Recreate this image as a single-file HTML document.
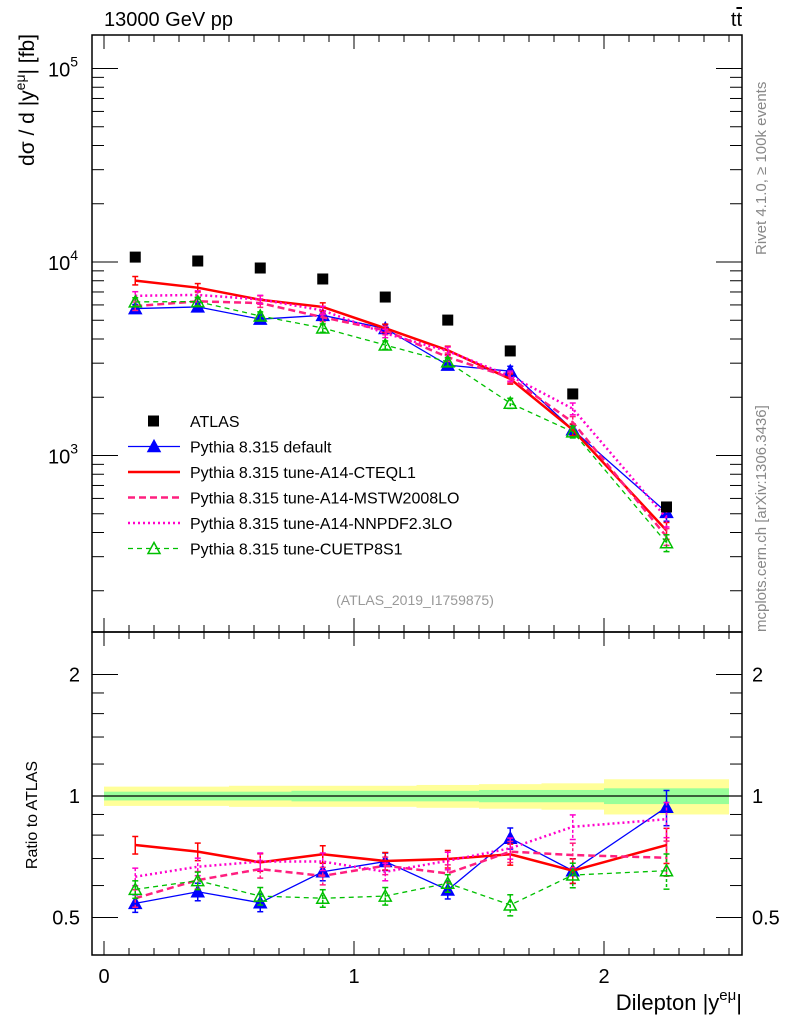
<!DOCTYPE html>
<html><head><meta charset="utf-8"><style>
body{margin:0;background:#fff}
svg{font-family:"Liberation Sans",sans-serif}
</style></head><body>
<svg id="c" width="786" height="1024" xmlns="http://www.w3.org/2000/svg"></svg>
<script>
const binCenters=[0.125,0.375,0.625,0.875,1.125,1.375,1.625,1.875,2.25];
const atlasVals=[10600,10120,9310,8170,6590,5010,3470,2080,542];
const ratioDefault=[0.542,0.579,0.544,0.649,0.688,0.585,0.786,0.653,0.938];
const ratioCTEQ=[0.756,0.728,0.685,0.717,0.690,0.698,0.717,0.653,0.756];
const ratioMSTW=[0.558,0.619,0.659,0.634,0.672,0.643,0.728,0.714,0.703];
const ratioNNPDF=[0.631,0.668,0.688,0.688,0.649,0.691,0.742,0.839,0.876];
const ratioCUETP=[0.587,0.617,0.565,0.558,0.565,0.608,0.537,0.637,0.653];
const bandTotal=[0.055,0.055,0.06,0.06,0.06,0.065,0.07,0.075,0.1];
const bandStat=[0.025,0.025,0.025,0.03,0.03,0.03,0.035,0.035,0.045];
const binEdges=[0,0.25,0.5,0.75,1,1.25,1.5,1.75,2,2.5];
const errFrac=[0.05,0.05,0.05,0.05,0.05,0.05,0.06,0.07,0.1];

const S=document.getElementById('c');const NS='http://www.w3.org/2000/svg';
function el(t,a,p){const e=document.createElementNS(NS,t);for(const k in a)e.setAttribute(k,a[k]);(p||S).appendChild(e);return e;}
const L=92,R=742,T=35,MB=632,B=955;
const X=v=>104+v*250;
const Y=v=>262-(Math.log10(v)-4)*193.5;
const YR=r=>796-Math.log2(r)*121.5;

const gb=el('g',{});
for(let i=0;i<9;i++){const x0=X(binEdges[i]),x1=X(binEdges[i+1]);
 el('rect',{x:x0,y:YR(1+bandTotal[i]),width:x1-x0,height:YR(1-bandTotal[i])-YR(1+bandTotal[i]),fill:'#ffff99'},gb);
 el('rect',{x:x0,y:YR(1+bandStat[i]),width:x1-x0,height:YR(1-bandStat[i])-YR(1+bandStat[i]),fill:'#99ff99'},gb);}
el('line',{x1:L,x2:R,y1:YR(1),y2:YR(1),stroke:'#000','stroke-width':1.3});

const fr=el('g',{fill:'none',stroke:'#000','stroke-width':1.5});
el('rect',{x:L,y:T,width:R-L,height:MB-T},fr);el('rect',{x:L,y:MB,width:R-L,height:B-MB},fr);
for(let i=0;i<=25;i++){const v=i/10,x=X(v),maj=i%10==0,len=maj?14:7;
 for(const [y0,d] of [[T,1],[MB,-1],[MB,1],[B,-1]]) el('line',{x1:x,x2:x,y1:y0,y2:y0+d*len,stroke:'#000','stroke-width':1});
 if(maj){const t=el('text',{x:x,y:983,'font-size':20,'text-anchor':'middle'});t.textContent=v;}}
for(let e=2;e<=5;e++)for(let m=1;m<10;m++){const v=m*Math.pow(10,e),y=Y(v);if(y<T||y>MB)continue;const len=m==1?26:12;
 el('line',{x1:L,x2:L+len,y1:y,y2:y,stroke:'#000'});el('line',{x1:R,x2:R-len,y1:y,y2:y,stroke:'#000'});
 if(m==1&&e>=3){const t=el('text',{x:48,y:y+8,'font-size':20});t.innerHTML='10<tspan dy="-10" font-size="14">'+e+'</tspan>';}}
[0.5,0.6,0.7,0.8,0.9,1,1.2,1.4,1.6,1.8,2].forEach(v=>{const y=YR(v),maj=[0.5,1,2].includes(v),len=maj?26:12;
 el('line',{x1:L,x2:L+len,y1:y,y2:y,stroke:'#000'});el('line',{x1:R,x2:R-len,y1:y,y2:y,stroke:'#000'});
 if(maj){const t=el('text',{x:80,y:y+7,'font-size':20,'text-anchor':'end'});t.textContent=v;
 const t2=el('text',{x:752,y:y+7,'font-size':20});t2.textContent=v;}});

const series=[
 {n:'pythia-default',r:ratioDefault,c:'#0000ff',w:1.3,d:'',m:'tri'},
 {n:'pythia-a14-cteql1',r:ratioCTEQ,c:'#ff0000',w:2.5,d:'',m:'none'},
 {n:'pythia-a14-mstw2008lo',r:ratioMSTW,c:'#ff1f7f',w:2.5,d:'7,4',m:'none'},
 {n:'pythia-a14-nnpdf23lo',r:ratioNNPDF,c:'#ff00cc',w:2.5,d:'2,3',m:'none'},
 {n:'pythia-cuetp8s1',r:ratioCUETP,c:'#00c000',w:1.3,d:'5,4',m:'otri'}];
function tri(g,x,y,c,open){el('polygon',{points:`${x},${y-6} ${x-6},${y+5} ${x+6},${y+5}`,fill:open?'none':c,stroke:c,'stroke-width':1.5},g);}
series.forEach(s=>{
 for(const panel of ['main','ratio']){
  const g=el('g',{});
  const py=i=>panel=='main'?Y(s.r[i]*atlasVals[i]):YR(s.r[i]);
  const pts=binCenters.map((b,i)=>X(b)+','+py(i)).join(' ');
  el('polyline',{points:pts,fill:'none',stroke:s.c,'stroke-width':s.w,'stroke-dasharray':s.d},g);
  binCenters.forEach((b,i)=>{const x=X(b),v=s.r[i];
   const ya=panel=='main'?Y(v*atlasVals[i]*(1+errFrac[i])):YR(v*(1+errFrac[i]));
   const yb=panel=='main'?Y(v*atlasVals[i]*(1-errFrac[i])):YR(v*(1-errFrac[i]));
   el('line',{x1:x,x2:x,y1:ya,y2:yb,stroke:s.c,'stroke-width':1.5,'stroke-dasharray':s.d?'3,2':''},g);
   el('line',{x1:x-3,x2:x+3,y1:ya,y2:ya,stroke:s.c,'stroke-width':1.5},g);el('line',{x1:x-3,x2:x+3,y1:yb,y2:yb,stroke:s.c,'stroke-width':1.5},g);
   if(s.m=='tri')tri(g,x,py(i),s.c,false);if(s.m=='otri')tri(g,x,py(i),s.c,true);});
 }});
const ga=el('g',{});
binCenters.forEach((b,i)=>el('rect',{x:X(b)-5.5,y:Y(atlasVals[i])-5.5,width:11,height:11,fill:'#000'},ga));

const leg=[['ATLAS','#000','','sq',1],['Pythia 8.315 default','#0000ff','','tri',1.3],['Pythia 8.315 tune-A14-CTEQL1','#ff0000','','',2.5],['Pythia 8.315 tune-A14-MSTW2008LO','#ff1f7f','7,4','',2.5],['Pythia 8.315 tune-A14-NNPDF2.3LO','#ff00cc','2,3','',2.5],['Pythia 8.315 tune-CUETP8S1','#00c000','5,4','otri',1.3]];
leg.forEach((l,i)=>{const y=421+i*25.5;const g=el('g',{});
 if(l[3]=='sq')el('rect',{x:148,y:y-5.5,width:11,height:11,fill:'#000'},g);
 else{el('line',{x1:128,x2:180,y1:y,y2:y,stroke:l[1],'stroke-width':l[4],'stroke-dasharray':l[2]},g);if(l[3])tri(g,154,y,l[1],l[3]=='otri');}
 const t=el('text',{x:190,y:y+6,'font-size':16},g);t.textContent=l[0];});

function txt(x,y,s,a,name){const t=el('text',Object.assign({x:x,y:y},a));t.innerHTML=s;return t;}
txt(104,26,'13000 GeV pp',{'font-size':20},'energy-label');
txt(742,26,'t<tspan text-decoration="overline">t</tspan>',{'font-size':20,'text-anchor':'end'},'process-label');
txt(415,605,'(ATLAS_2019_I1759875)',{'font-size':14,fill:'#999','text-anchor':'middle'},'analysis-id');
txt(0,0,'Rivet 4.1.0, ≥ 100k events',{'font-size':15,fill:'#888',transform:'translate(766,255) rotate(-90)'},'rivet-version');
txt(0,0,'mcplots.cern.ch [arXiv:1306.3436]',{'font-size':15,fill:'#888',transform:'translate(766,632) rotate(-90)'},'mcplots-credit');
txt(0,0,'dσ / d |y<tspan dy="-9" font-size="14">eμ</tspan><tspan dy="9">| [fb]</tspan>',{'font-size':21,'text-anchor':'end',transform:'translate(34,34) rotate(-90)'},'y-axis-title');
txt(0,0,'Ratio to ATLAS',{'font-size':16,'text-anchor':'middle',transform:'translate(37,815) rotate(-90)'},'ratio-axis-title');
txt(742,1010,'Dilepton |y<tspan dy="-10" font-size="15">eμ</tspan><tspan dy="10">|</tspan>',{'font-size':22,'text-anchor':'end'},'x-axis-title');
</script>
</body></html>
